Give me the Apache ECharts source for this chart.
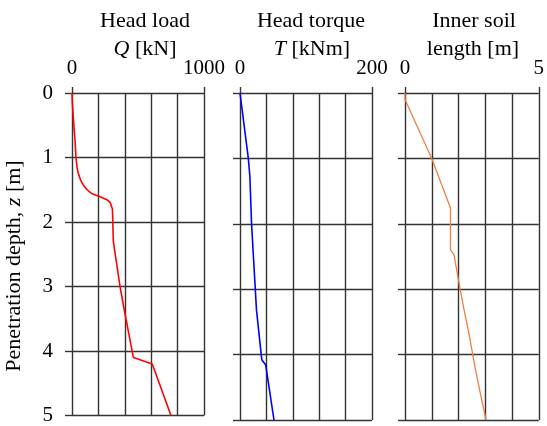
<!DOCTYPE html>
<html>
<head>
<meta charset="utf-8">
<script src="https://cdn.jsdelivr.net/npm/echarts@6/dist/echarts.min.js"></script>
<style>
  html, body { margin: 0; padding: 0; background: #fff; }
  #chart { width: 547px; height: 426px; }
</style>
</head>
<body>
<div id="chart"></div>
<script>
// Penetration profiles: head load, head torque, inner soil length vs depth

const depthTicks = [0, 1, 2, 3, 4, 5];

const loadTicks = [0, 1000];
const depthQ = [0, 0.2, 0.38, 0.55, 0.74, 1.0, 1.15, 1.25, 1.35, 1.43, 1.5, 1.56, 1.61, 1.66, 1.7, 1.73, 1.8, 1.91, 2.3, 3.0, 3.42, 4.1, 4.2, 5.0];
const loadQ = [0, 4, 10, 16, 23, 30, 38, 48, 65, 86, 115, 149, 212, 268, 290, 300, 306, 308, 313, 364, 401, 465, 608, 750];

const torqueTicks = [0, 200];
const depthT = [0, 1.0, 1.28, 2.0, 3.32, 4.08, 4.16, 5.0];
const torqueT = [0, 12.6, 15, 17.5, 25, 33, 39, 51.5];

const soilTicks = [0, 5];
const depthL = [0, 0.1, 1.0, 1.76, 2.4, 2.47, 2.86, 3.3, 3.7, 4.2, 4.6, 5.0];
const soilL = [0, 0, 1.0, 1.7, 1.7, 1.83, 2.0, 2.2, 2.4, 2.62, 2.82, 3.03];

const FONT = 'Liberation Serif';
const GRID_COLOR = '#333333';
const LINE_W = 1.4;

function pairs(xs, zs) {
    return zs.map((z, i) => [xs[i], z]);
}

// grid lines only (bottom side, nothing drawn but split lines)
function makeGridX(idx, max, step) {
    return {
        gridIndex: idx,
        type: 'value',
        position: 'bottom',
        min: 0,
        max: max,
        interval: step,
        axisLine: { show: false },
        axisTick: { show: false },
        axisLabel: { show: false },
        splitLine: { show: true, lineStyle: { color: GRID_COLOR, width: LINE_W } }
    };
}

// top axis with ticks/labels only at the ends
function makeLabelX(idx, max, ticks) {
    return {
        gridIndex: idx,
        type: 'value',
        position: 'top',
        min: 0,
        max: max,
        axisLine: { show: false },
        axisTick: {
            show: true,
            customValues: ticks,
            length: 6,
            lineStyle: { color: GRID_COLOR, width: LINE_W }
        },
        axisLabel: {
            customValues: ticks,
            margin: 14,
            color: '#000',
            fontFamily: FONT,
            fontSize: 21,
            formatter: v => String(v)
        },
        splitLine: { show: false }
    };
}

function makeY(idx, showLabels) {
    return {
        gridIndex: idx,
        type: 'value',
        inverse: true,
        min: 0,
        max: 5,
        interval: 1,
        axisLine: { show: false },
        axisTick: {
            show: true,
            length: 7,
            lineStyle: { color: GRID_COLOR, width: LINE_W }
        },
        axisLabel: {
            show: showLabels,
            margin: 19,
            color: '#000',
            fontFamily: FONT,
            fontSize: 21,
            formatter: v => depthTicks.includes(v) ? String(v) : ''
        },
        splitLine: { show: true, lineStyle: { color: GRID_COLOR, width: LINE_W } }
    };
}

const RICH = {
    i: { fontStyle: 'italic', fontFamily: FONT, fontSize: 22 },
    n: { fontFamily: FONT, fontSize: 22 }
};

function label(x, y, text, rotation) {
    return {
        type: 'text',
        x: x,
        y: y,
        rotation: rotation || 0,
        style: {
            text: text,
            align: 'center',
            verticalAlign: 'middle',
            fill: '#000',
            font: '22px "' + FONT + '"',
            rich: RICH
        }
    };
}

const chart = echarts.init(document.getElementById('chart'));

chart.setOption({
    animation: false,
    backgroundColor: '#fff',
    grid: [
        { left: 72, top: 93, width: 132, height: 327 },
        { left: 240, top: 93, width: 132, height: 327 },
        { left: 405, top: 93, width: 135, height: 327 }
    ],
    xAxis: [
        makeGridX(0, 1000, 200),
        makeGridX(1, 200, 40),
        makeGridX(2, 5, 1),
        makeLabelX(0, 1000, loadTicks),
        makeLabelX(1, 200, torqueTicks),
        makeLabelX(2, 5, soilTicks)
    ],
    yAxis: [makeY(0, true), makeY(1, false), makeY(2, false)],
    graphic: [
        label(14, 266, '{n|Penetration depth, }{i|z}{n| [m]}', Math.PI / 2),
        label(145, 21, '{n|Head load}'),
        label(145, 49, '{i|Q}{n| [kN]}'),
        label(311, 21, '{n|Head torque}'),
        label(312, 49, '{i|T}{n| [kNm]}'),
        label(474, 21, '{n|Inner soil}'),
        label(473, 49, '{n|length [m]}')
    ],
    series: [
        {
            type: 'line', xAxisIndex: 0, yAxisIndex: 0,
            data: pairs(loadQ, depthQ),
            showSymbol: false,
            lineStyle: { color: '#ff0000', width: 1.6 }
        },
        {
            type: 'line', xAxisIndex: 1, yAxisIndex: 1,
            data: pairs(torqueT, depthT),
            showSymbol: false,
            lineStyle: { color: '#0000ff', width: 1.6 }
        },
        {
            type: 'line', xAxisIndex: 2, yAxisIndex: 2,
            data: pairs(soilL, depthL),
            showSymbol: false,
            lineStyle: { color: '#ee8040', width: 1.3 }
        }
    ]
});
</script>
</body>
</html>
